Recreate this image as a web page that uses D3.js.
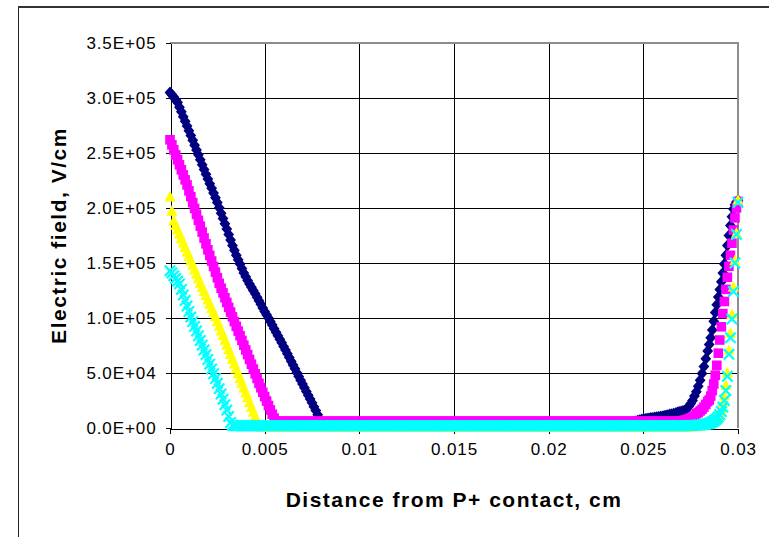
<!DOCTYPE html>
<html>
<head>
<meta charset="utf-8">
<title>Electric field vs distance</title>
<script src="https://cdn.jsdelivr.net/npm/d3@7/dist/d3.min.js"></script>
<style>
  html, body { margin: 0; padding: 0; background: #ffffff; }
  svg { display: block; }
  .axis .tick text { font-family: "Liberation Sans", Arial, sans-serif; font-size: 17px; letter-spacing: 0.9px; fill: #000; }
  .axis path, .axis line { stroke: #000; stroke-width: 1px; shape-rendering: crispEdges; }
  .axis-title { font-family: "Liberation Sans", Arial, sans-serif; font-size: 21px; font-weight: bold; letter-spacing: 1.5px; fill: #000; }
</style>
</head>
<body>
<svg id="chart" width="769" height="537"></svg>
<script>
// Simulation grid, cm: 1 µm steps through the bulk, finer steps next to the N+ contact
const gridBulk = d3.range(284).map(i => i / 10000);
const gridContact = [0.0284, 0.02848, 0.02856, 0.02864, 0.02872, 0.0288, 0.02888, 0.02896, 0.02904,
  0.02912, 0.0292, 0.02928, 0.02936, 0.02944, 0.02952, 0.0296, 0.02968, 0.02976, 0.02984, 0.02992, 0.03];
const distance = gridBulk.concat(gridContact);

// Electric field on the grid, kV/cm, one array per bias condition
const field1 = [
  305,303,301,298.5,296,291.7,287.4,283,278.9,274.6,270.3,266,261.6,257.1,252.7,248.3,243.9,239.4,235,230.7,
  226.4,222.1,217.9,213.6,209.3,205,200.2,195.3,190.5,185.7,180.8,176,171,166,161.5,157,153,149,145,141,
  137.5,134,131,128,125,122,118.8,115.6,112.4,109.2,106,103,100,96.8,93.6,90.3,87.1,83.9,80.7,77.4,
  74.2,71,67.6,64.1,60.7,57.2,53.8,50.3,46.9,43.4,40,36.6,33.1,29.7,26.3,22.9,19.4,16,12,8,
  5,4.5,4.5,4.5,4.5,4.5,4.5,4.5,4.5,4.5,4.5,4.5,4.5,4.5,4.5,4.5,4.5,4.5,4.5,4.5,
  4.5,4.5,4.5,4.5,4.5,4.5,4.5,4.5,4.5,4.5,4.5,4.5,4.5,4.5,4.5,4.5,4.5,4.5,4.5,4.5,
  4.5,4.5,4.5,4.5,4.5,4.5,4.5,4.5,4.5,4.5,4.5,4.5,4.5,4.5,4.5,4.5,4.5,4.5,4.5,4.5,
  4.5,4.5,4.5,4.5,4.5,4.5,4.5,4.5,4.5,4.5,4.5,4.5,4.5,4.5,4.5,4.5,4.5,4.5,4.5,4.5,
  4.5,4.5,4.5,4.5,4.5,4.5,4.5,4.5,4.5,4.5,4.5,4.5,4.5,4.5,4.5,4.5,4.5,4.5,4.5,4.5,
  4.5,4.5,4.5,4.5,4.5,4.5,4.5,4.5,4.5,4.5,4.5,4.5,4.5,4.5,4.5,4.5,4.5,4.5,4.5,4.5,
  4.5,4.5,4.5,4.5,4.5,4.5,4.5,4.5,4.5,4.5,4.5,4.5,4.5,4.5,4.5,4.5,4.5,4.5,4.5,4.5,
  4.5,4.5,4.5,4.5,4.5,4.5,4.5,4.5,4.5,4.5,4.5,4.5,4.5,4.5,4.5,4.5,4.5,4.5,4.5,4.5,
  4.5,4.5,4.5,4.5,5,5.5,6,6.5,7,7.5,8,8.2,8.5,8.7,9,9.2,9.5,9.7,10,10.2,
  10.5,10.9,11.3,11.7,12.2,12.6,13,13.5,14,14.5,15,15.5,16,17.5,19.5,22,25,29,33,38,
  43.5,49.5,56,63,
  70,76,82,89,97,105,112,119,126,133,141,149,157,166,175,184,192,199,203,205.5,207
];
const field2 = [
  262,257.4,252.9,248.3,243.8,239.2,234.7,230.1,225.6,221,215.6,210.3,204.9,199.6,194.2,188.8,183.5,178.1,172.7,167.4,
  162,156.9,151.8,146.8,141.7,136.6,131.5,127.1,122.8,118.4,114.1,109.7,105.4,101,96.7,92.4,88.1,83.9,79.6,75.3,
  71,66.7,62.3,58,53.6,49.3,45,40.6,36.6,32.5,28.5,24.5,20.4,16.4,12.5,9,6.5,6,6,6,
  6,6,6,6,6,6,6,6,6,6,6,6,6,6,6,6,6,6,6,6,
  6,6,6,6,6,6,6,6,6,6,6,6,6,6,6,6,6,6,6,6,
  6,6,6,6,6,6,6,6,6,6,6,6,6,6,6,6,6,6,6,6,
  6,6,6,6,6,6,6,6,6,6,6,6,6,6,6,6,6,6,6,6,
  6,6,6,6,6,6,6,6,6,6,6,6,6,6,6,6,6,6,6,6,
  6,6,6,6,6,6,6,6,6,6,6,6,6,6,6,6,6,6,6,6,
  6,6,6,6,6,6,6,6,6,6,6,6,6,6,6,6,6,6,6,6,
  6,6,6,6,6,6,6,6,6,6,6,6,6,6,6,6,6,6,6,6,
  6,6,6,6,6,6,6,6,6,6,6,6,6,6,6,6,6,6,6,6,
  6,6,6,6,6,6,6,6,6,6,6,6,6,6,6,6,6,6,6,6,
  6,6,6,6,6,6,6,6,6,6,6.5,6.8,7.2,7.7,8.3,9.1,10,11.2,13,14,
  15.5,17,19,21.5,
  24,25.5,29,34,40,48,57,68,80,92,104,115,126,137,147,157,168,180,191,200,206
];
const field3 = [
  210,197,188,184,180,176,172,168,164,160,155.9,151.9,147.8,143.7,139.6,135.6,131.5,127.7,123.9,120.1,
  116.3,112.4,108.6,104.8,101,96.7,92.4,88.1,83.9,79.6,75.3,71,66.7,62.3,58,53.6,49.3,45,40.6,36.2,
  31.8,27.4,23,18.6,14.2,9.8,5.5,2.5,1,1,1,1,1,1,1,1,1,1,1,1,
  1,1,1,1,1,1,1,1,1,1,1,1,1,1,1,1,1,1,1,1,
  1,1,1,1,1,1,1,1,1,1,1,1,1,1,1,1,1,1,1,1,
  1,1,1,1,1,1,1,1,1,1,1,1,1,1,1,1,1,1,1,1,
  1,1,1,1,1,1,1,1,1,1,1,1,1,1,1,1,1,1,1,1,
  1,1,1,1,1,1,1,1,1,1,1,1,1,1,1,1,1,1,1,1,
  1,1,1,1,1,1,1,1,1,1,1,1,1,1,1,1,1,1,1,1,
  1,1,1,1,1,1,1,1,1,1,1,1,1,1,1,1,1,1,1,1,
  1,1,1,1,1,1,1,1,1,1,1,1,1,1,1,1,1,1,1,1,
  1,1,1,1,1,1,1,1,1,1,1,1,1,1,1,1,1,1,1,1,
  1,1,1,1,1,1,1,1,1,1,1,1,1,1,1,1,1,1,1,1,
  1,1,1,1,1,1,1,1,1,1,1,1,1,1,1,1,1.1,1.2,1.3,1.5,
  1.7,2,2.3,2.7,
  3.2,3.7,4.4,5.2,6.2,7.5,9,11,14,17.5,22,29,38.5,50,70.6,86,103,128,152,177,207
];
const field4 = [
  143,141,138.5,136,133.5,131,126,120.9,115.9,110.9,105.9,101,96.7,92.4,88.1,83.9,79.6,75.3,71,66.7,
  62.3,58,53.6,49.3,45,40.6,35.8,30.9,26.1,21.2,16.4,10.5,5,2.5,2,2,2,2,2,2,
  2,2,2,2,2,2,2,2,2,2,2,2,2,2,2,2,2,2,2,2,
  2,2,2,2,2,2,2,2,2,2,2,2,2,2,2,2,2,2,2,2,
  2,2,2,2,2,2,2,2,2,2,2,2,2,2,2,2,2,2,2,2,
  2,2,2,2,2,2,2,2,2,2,2,2,2,2,2,2,2,2,2,2,
  2,2,2,2,2,2,2,2,2,2,2,2,2,2,2,2,2,2,2,2,
  2,2,2,2,2,2,2,2,2,2,2,2,2,2,2,2,2,2,2,2,
  2,2,2,2,2,2,2,2,2,2,2,2,2,2,2,2,2,2,2,2,
  2,2,2,2,2,2,2,2,2,2,2,2,2,2,2,2,2,2,2,2,
  2,2,2,2,2,2,2,2,2,2,2,2,2,2,2,2,2,2,2,2,
  2,2,2,2,2,2,2,2,2,2,2,2,2,2,2,2,2,2,2,2,
  2,2,2,2,2,2,2,2,2,2,2,2,2,2,2,2,2,2,2,2,
  2,2,2,2,2,2,2,2,2,2,2,2,2,2,2.1,2.2,2.3,2.4,2.5,2.6,
  2.8,3,3.2,3.5,
  3.9,4.3,4.8,5.5,6.3,7.3,8.5,10,12,15,19,25,34,47,67,82,99,124,150,176,205
];

const seriesFields = [field1, field2, field3, field4];
const seriesColors = ["#000080", "#ff00ff", "#ffff00", "#00ffff"];
const seriesMarkers = ["diamond", "square", "triangle", "cross"];

const xTicks = [0, 0.005, 0.01, 0.015, 0.02, 0.025, 0.03];
const xTickLabels = ["0", "0.005", "0.01", "0.015", "0.02", "0.025", "0.03"];
const yTicks = [0, 50000, 100000, 150000, 200000, 250000, 300000, 350000];
const yTickLabels = ["0.0E+00", "5.0E+04", "1.0E+05", "1.5E+05", "2.0E+05", "2.5E+05", "3.0E+05", "3.5E+05"];

const xTitle = "Distance from P+ contact, cm";
const yTitle = "Electric field, V/cm";

// ---- layout ----
const svg = d3.select("#chart");
const plot = { left: 170, right: 738, top: 43, bottom: 428 };

const x = d3.scaleLinear().domain([0, 0.03]).range([plot.left, plot.right]);
const y = d3.scaleLinear().domain([0, 350000]).range([plot.bottom, plot.top]);

// chart-area frame (left and top edges fall inside the window)
svg.append("line").attr("x1", 18.5).attr("x2", 18.5).attr("y1", 6).attr("y2", 537)
  .attr("stroke", "#222").attr("stroke-width", 1);
svg.append("line").attr("x1", 18).attr("x2", 769).attr("y1", 7).attr("y2", 7)
  .attr("stroke", "#333").attr("stroke-width", 2);

// gridlines
const grid = svg.append("g").attr("shape-rendering", "crispEdges");
grid.selectAll(".hgrid").data(yTicks.slice(1, -1)).join("line")
  .attr("x1", plot.left).attr("x2", plot.right)
  .attr("y1", d => Math.round(y(d)) + 0.5).attr("y2", d => Math.round(y(d)) + 0.5)
  .attr("stroke", "#000").attr("stroke-width", 1);
grid.selectAll(".vgrid").data(xTicks.slice(1, -1)).join("line")
  .attr("y1", plot.top).attr("y2", plot.bottom)
  .attr("x1", d => Math.round(x(d)) + 0.5).attr("x2", d => Math.round(x(d)) + 0.5)
  .attr("stroke", "#000").attr("stroke-width", 1);

// plot-area border (top and right)
svg.append("path")
  .attr("d", `M${plot.left},${plot.top}H${plot.right}V${plot.bottom}`)
  .attr("fill", "none").attr("stroke", "#8c8c8c").attr("stroke-width", 2);

// axes
const xAxis = d3.axisBottom(x).tickValues(xTicks).tickFormat((d, i) => xTickLabels[i])
  .tickSize(5).tickSizeOuter(0).tickPadding(9);
const yAxis = d3.axisLeft(y).tickValues(yTicks).tickFormat((d, i) => yTickLabels[i])
  .tickSize(5).tickSizeOuter(0).tickPadding(9);

svg.append("g").attr("class", "axis")
  .attr("transform", `translate(0,${plot.bottom + 0.5})`).call(xAxis);
svg.append("g").attr("class", "axis")
  .attr("transform", `translate(${plot.left + 0.5},0)`).call(yAxis);

// axis titles
svg.append("text").attr("class", "axis-title")
  .attr("x", (plot.left + plot.right) / 2).attr("y", 507)
  .attr("text-anchor", "middle").text(xTitle);
svg.append("text").attr("class", "axis-title")
  .attr("transform", `translate(58,${(plot.top + plot.bottom) / 2}) rotate(-90)`)
  .attr("text-anchor", "middle").attr("dominant-baseline", "central").text(yTitle);

// markers
const markerPaths = {
  diamond: "M0,-6L5.4,0L0,6L-5.4,0Z",
  square: "M-4.8,-4.8H4.8V4.8H-4.8Z",
  triangle: "M0,-6.2L5.6,4.4L-5.6,4.4Z",
  cross: "M-5.2,-5.2L5.2,5.2M5.2,-5.2L-5.2,5.2"
};

seriesFields.forEach((field, s) => {
  const pts = distance.map((d, i) => ({ x: d, v: field[i] * 1000 }));
  const marker = seriesMarkers[s];
  const g = svg.append("g");
  g.selectAll("path").data(pts).join("path")
    .attr("transform", d => `translate(${x(d.x)},${y(d.v)})`)
    .attr("d", markerPaths[marker])
    .attr("fill", marker === "cross" ? "none" : seriesColors[s])
    .attr("stroke", marker === "cross" ? seriesColors[s] : "none")
    .attr("stroke-width", marker === "cross" ? 2.2 : 0);
});
</script>
</body>
</html>
